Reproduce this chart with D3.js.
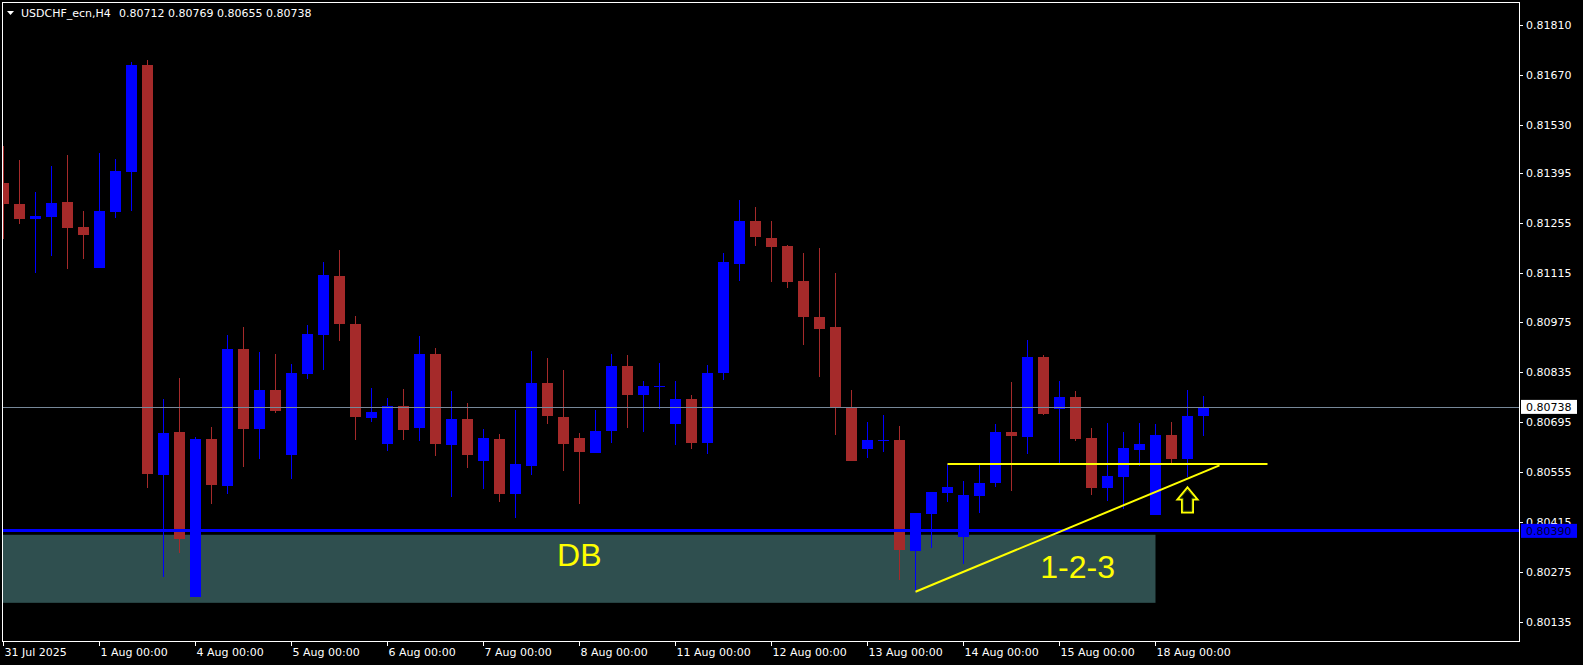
<!DOCTYPE html>
<html><head><meta charset="utf-8">
<script src="https://cdn.jsdelivr.net/npm/d3@7"></script>
<style>html,body{margin:0;padding:0;background:#000;overflow:hidden}svg{display:block}</style>
</head><body><svg id="c" width="1583" height="665"></svg>
<script>
// ---- data (USDCHF_ecn, H4) ----
const openP  = [0.81367,0.81308,0.81266,0.81271,0.81313,0.81243,0.81129,0.81286,0.81398,0.81698,
                0.80547,0.80668,0.80205,0.80648,0.80517,0.80901,0.80676,0.80786,0.80603,0.80831,
                0.80940,0.81105,0.80971,0.80708,0.80635,0.80741,0.80680,0.80887,0.80631,0.80704,
                0.80587,0.80648,0.80494,0.80573,0.80805,0.80710,0.80651,0.80609,0.80671,0.80853,
                0.80770,0.80795,0.80691,0.80760,0.80638,0.80832,0.81140,0.81260,0.81212,0.81190,
                0.81091,0.80990,0.80962,0.80738,0.80620,0.80642,0.80645,0.80334,0.80438,0.80496,
                0.80374,0.80489,0.80524,0.80668,0.80654,0.80878,0.80732,0.80766,0.80651,0.80511,
                0.80542,0.80618,0.80435,0.80659,0.80593,0.80712];
const highP  = [0.81470,0.81431,0.81341,0.81414,0.81445,0.81288,0.81451,0.81434,0.81706,0.81712,
                0.80760,0.80819,0.80654,0.80682,0.80940,0.80962,0.80892,0.80887,0.80859,0.80968,
                0.81145,0.81178,0.80993,0.80791,0.80763,0.80788,0.80937,0.80903,0.80783,0.80749,
                0.80676,0.80662,0.80729,0.80895,0.80875,0.80842,0.80665,0.80729,0.80887,0.80884,
                0.80811,0.80861,0.80811,0.80771,0.80856,0.81170,0.81319,0.81299,0.81260,0.81192,
                0.81170,0.81184,0.81114,0.80786,0.80696,0.80715,0.80684,0.80440,0.80499,0.80578,
                0.80530,0.80575,0.80690,0.80808,0.80926,0.80884,0.80811,0.80783,0.80679,0.80693,
                0.80668,0.80693,0.80690,0.80696,0.80786,0.80769];
const lowP   = [0.81209,0.81252,0.81115,0.81162,0.81126,0.81154,0.81129,0.81269,0.81288,0.80511,
                0.80261,0.80329,0.80205,0.80466,0.80494,0.80570,0.80592,0.80721,0.80536,0.80817,
                0.80842,0.80923,0.80645,0.80696,0.80615,0.80646,0.80643,0.80601,0.80484,0.80567,
                0.80508,0.80472,0.80427,0.80548,0.80691,0.80559,0.80464,0.80609,0.80638,0.80680,
                0.80668,0.80733,0.80632,0.80621,0.80607,0.80814,0.81091,0.81191,0.81089,0.81073,
                0.80913,0.80823,0.80660,0.80587,0.80595,0.80610,0.80252,0.80219,0.80343,0.80472,
                0.80298,0.80441,0.80513,0.80503,0.80607,0.80716,0.80581,0.80643,0.80492,0.80475,
                0.80452,0.80573,0.80435,0.80580,0.80542,0.80655];
const closeP = [0.81308,0.81266,0.81274,0.81310,0.81241,0.81221,0.81288,0.81400,0.81698,0.80551,
                0.80665,0.80367,0.80648,0.80519,0.80901,0.80677,0.80786,0.80727,0.80833,0.80943,
                0.81108,0.80971,0.80710,0.80724,0.80741,0.80674,0.80887,0.80635,0.80704,0.80604,
                0.80651,0.80494,0.80578,0.80805,0.80713,0.80635,0.80610,0.80670,0.80853,0.80772,
                0.80797,0.80797,0.80760,0.80638,0.80833,0.81145,0.81260,0.81216,0.81188,0.81089,
                0.80991,0.80958,0.80736,0.80587,0.80645,0.80644,0.80337,0.80440,0.80499,0.80513,
                0.80491,0.80524,0.80668,0.80657,0.80878,0.80719,0.80766,0.80649,0.80511,0.80544,
                0.80623,0.80634,0.80659,0.80593,0.80713,0.80738];

const dayTickIndex = [0,6,12,18,24,30,36,42,48,54,60,66,72];
const dayLabels = ["31 Jul 2025","1 Aug 00:00","4 Aug 00:00","5 Aug 00:00","6 Aug 00:00","7 Aug 00:00",
                   "8 Aug 00:00","11 Aug 00:00","12 Aug 00:00","13 Aug 00:00","14 Aug 00:00","15 Aug 00:00","18 Aug 00:00"];
const priceTicks = [0.81810,0.81670,0.81530,0.81395,0.81255,0.81115,0.80975,0.80835,0.80695,0.80555,0.80415,0.80275,0.80135];

const symbolTitle = "USDCHF_ecn,H4";
const lastBid = 0.80738;
const supportLevel = 0.80390;
const dbZone = {from: -2, to: 72, top: 0.80379, bottom: 0.80188, label: "DB", labelIndex: 34.6, labelPrice: 0.80291};
const neckLevel = {from: 59, to: 79, price: 0.80578};
const trendLine = {i1: 57, p1: 0.80219, i2: 76, p2: 0.80574};
const pattern = {label: "1-2-3", index: 64.8, price: 0.80259};
const arrowMark = {index: 74, price: 0.80512};

// ---- layout ----
const W = 1583, H = 665;
const plot = {left: 2, top: 2, right: 1519, bottom: 641};
const x = d3.scaleLinear().domain([0, 75]).range([3.5, 1203.5]);
const y = d3.scaleLinear().domain([0.80135, 0.81810]).range([621.7, 25]);

const svg = d3.select("#c");
svg.append("rect").attr("width", W).attr("height", H).attr("fill", "#000");
svg.append("defs").append("clipPath").attr("id","clip")
  .append("rect").attr("x", plot.left+1).attr("y", plot.top+1)
  .attr("width", plot.right-plot.left-1).attr("height", plot.bottom-plot.top-1);
const g = svg.append("g").attr("clip-path","url(#clip)");

const FONT = "DejaVu Sans, sans-serif";
const UP = "#0000FF", DN = "#A52A2A";

// DB zone
g.append("rect")
  .attr("x", x(dbZone.from)).attr("y", y(dbZone.top))
  .attr("width", x(dbZone.to) - x(dbZone.from))
  .attr("height", y(dbZone.bottom) - y(dbZone.top))
  .attr("fill", "#2F4F4F");

// candles
const idx = d3.range(openP.length);
const cg = g.append("g").attr("shape-rendering","crispEdges");
idx.forEach(i => {
  const up = closeP[i] >= openP[i];
  const col = up ? UP : DN;
  const cx = x(i);
  const yh = y(highP[i]), yl = y(lowP[i]);
  cg.append("rect").attr("x", cx-0.5).attr("y", Math.round(yh))
    .attr("width", 1).attr("height", Math.max(1, Math.round(yl)-Math.round(yh))).attr("fill", col);
  const yt = y(Math.max(openP[i], closeP[i])), yb = y(Math.min(openP[i], closeP[i]));
  cg.append("rect").attr("x", cx-5.5).attr("y", Math.round(yt))
    .attr("width", 11).attr("height", Math.max(1, Math.round(yb)-Math.round(yt))).attr("fill", col);
});

// bid line
g.append("line").attr("x1", plot.left).attr("x2", plot.right)
  .attr("y1", Math.round(y(lastBid))+0.5).attr("y2", Math.round(y(lastBid))+0.5)
  .attr("stroke", "#778899").attr("stroke-width", 1);
// support line
g.append("line").attr("x1", plot.left).attr("x2", plot.right)
  .attr("y1", y(supportLevel)).attr("y2", y(supportLevel))
  .attr("stroke", UP).attr("stroke-width", 3).attr("shape-rendering","crispEdges");

// yellow lines
g.append("line").attr("x1", x(neckLevel.from)).attr("x2", x(neckLevel.to))
  .attr("y1", y(neckLevel.price)).attr("y2", y(neckLevel.price))
  .attr("stroke", "#FFFF00").attr("stroke-width", 2);
g.append("line").attr("x1", x(trendLine.i1)).attr("y1", y(trendLine.p1))
  .attr("x2", x(trendLine.i2)).attr("y2", y(trendLine.p2))
  .attr("stroke", "#FFFF00").attr("stroke-width", 2);

// texts
g.append("text").attr("x", x(dbZone.labelIndex)).attr("y", y(dbZone.labelPrice))
  .attr("fill", "#FFFF00").attr("font-family", "Liberation Sans, Arial, sans-serif")
  .attr("font-size", 32).text(dbZone.label);
g.append("text").attr("x", x(pattern.index)).attr("y", y(pattern.price))
  .attr("fill", "#FFFF00").attr("font-family", "Liberation Sans, Arial, sans-serif")
  .attr("font-size", 32).text(pattern.label);

// arrow
{
  const cx = x(arrowMark.index), t = y(arrowMark.price);
  const pts = [[0,0],[10,12],[5.5,12],[5.5,25],[-5.5,25],[-5.5,12],[-10,12]];
  const path = d3.line()(pts.map(p => [cx+p[0], t+p[1]])) + "Z";
  g.append("path").attr("d", path).attr("fill", "none").attr("stroke", "#FFFF00").attr("stroke-width", 2)
    .attr("stroke-linejoin","miter");
  const inner = [[0,2.5],[7.2,10.8],[4.3,10.8],[4.3,23.8],[-4.3,23.8],[-4.3,10.8],[-7.2,10.8]];
  g.append("path").attr("d", d3.line()(inner.map(p => [cx+p[0], t+p[1]])) + "Z")
    .attr("fill","none").attr("stroke","#3a5a10").attr("stroke-width",0.8);
}

// frame
svg.append("rect").attr("x", plot.left+0.5).attr("y", plot.top+0.5)
  .attr("width", plot.right-plot.left).attr("height", plot.bottom-plot.top)
  .attr("fill","none").attr("stroke","#FFFFFF").attr("stroke-width",1);

// right axis
const ra = svg.append("g");
priceTicks.forEach(p => {
  const yy = y(p);
  ra.append("line").attr("x1", plot.right+0.5).attr("x2", plot.right+4)
    .attr("y1", Math.round(yy)+0.5).attr("y2", Math.round(yy)+0.5).attr("stroke","#FFF");
  ra.append("text").attr("x", 1526).attr("y", yy).attr("dy","0.36em")
    .attr("fill","#FFF").attr("font-family",FONT).attr("font-size",11).text(p.toFixed(5));
});
// price labels
function priceTag(p, bg, fg) {
  const yy = y(p);
  ra.append("rect").attr("x", 1521).attr("y", yy-7).attr("width", 56).attr("height", 14).attr("fill", bg);
  ra.append("text").attr("x", 1526).attr("y", yy).attr("dy","0.36em")
    .attr("fill",fg).attr("font-family",FONT).attr("font-size",11).text(p.toFixed(5));
}
priceTag(lastBid, "#FFFFFF", "#000000");
priceTag(supportLevel, "#0000FF", "#000033");

// bottom axis
const ba = svg.append("g");
dayTickIndex.forEach((di, k) => {
  const xx = Math.floor(x(di)) + 0.5;
  ba.append("line").attr("x1", xx).attr("x2", xx).attr("y1", plot.bottom).attr("y2", plot.bottom+5).attr("stroke","#FFF");
  ba.append("text").attr("x", xx+1).attr("y", 656)
    .attr("fill","#FFF").attr("font-family",FONT).attr("font-size",11).text(dayLabels[k]);
});

// header
svg.append("path").attr("d", "M7,11 L14,11 L10.5,15 Z").attr("fill","#FFF");
svg.append("text").attr("x", 21).attr("y", 16.5).attr("fill","#FFF")
  .attr("font-family",FONT).attr("font-size",11).text(symbolTitle);
svg.append("text").attr("x", 119).attr("y", 16.5).attr("fill","#FFF")
  .attr("font-family",FONT).attr("font-size",11)
  .text([openP[75], highP[75], lowP[75], closeP[75]].map(v => v.toFixed(5)).join(" "));
</script>
</body></html>
